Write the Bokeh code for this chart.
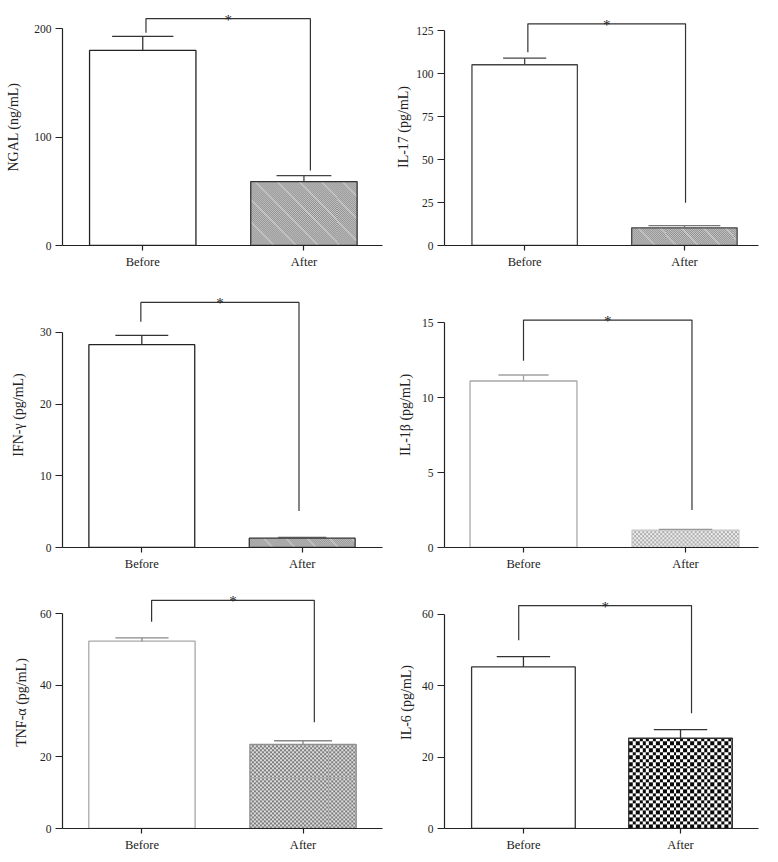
import numpy as np
from bokeh.plotting import figure
from bokeh.layouts import gridplot
from bokeh.models import Range1d, FixedTicker
from bokeh.core.properties import value
from bokeh.embed import file_html
from bokeh.resources import INLINE

# ---------------- data ----------------
categories = ["Before", "After"]

labels = ["NGAL (ng/mL)", "IL-17 (pg/mL)", "IFN-\u03b3 (pg/mL)",
          "IL-1\u03b2 (pg/mL)", "TNF-\u03b1 (pg/mL)", "IL-6 (pg/mL)"]

ngal_mean = [180.0, 59.0]
ngal_err = [13.0, 5.5]
il17_mean = [105.1, 10.3]
il17_err = [3.8, 1.3]
ifng_mean = [28.3, 1.3]
ifng_err = [1.3, 0.1]
il1b_mean = [11.1, 1.16]
il1b_err = [0.4, 0.05]
tnfa_mean = [52.3, 23.5]
tnfa_err = [0.9, 1.0]
il6_mean = [45.3, 25.3]
il6_err = [2.9, 2.4]

ngal_ticks = [0, 100, 200]
il17_ticks = [0, 25, 50, 75, 100, 125]
ifng_ticks = [0, 10, 20, 30]
il1b_ticks = [0, 5, 10, 15]
tnfa_ticks = [0, 20, 40, 60]
il6_ticks = [0, 20, 40, 60]

# significance brackets: [top, left-leg bottom, right-leg bottom]
ngal_bracket = [209.3, 196.3, 69.2]
il17_bracket = [128.9, 112.4, 24.8]
ifng_bracket = [34.2, 31.5, 5.1]
il1b_bracket = [15.16, 12.45, 2.5]
tnfa_bracket = [63.7, 57.7, 29.7]
il6_bracket = [62.5, 52.8, 32.3]
star = "*"

means = [ngal_mean, il17_mean, ifng_mean, il1b_mean, tnfa_mean, il6_mean]
errs = [ngal_err, il17_err, ifng_err, il1b_err, tnfa_err, il6_err]
ticks = [ngal_ticks, il17_ticks, ifng_ticks, il1b_ticks, tnfa_ticks, il6_ticks]
brackets = [ngal_bracket, il17_bracket, ifng_bracket, il1b_bracket, tnfa_bracket, il6_bracket]

# ---------------- layout (page pixel geometry) ----------------
# cell: x0, y0, x1, y1 ; frame: left, right, top, zero-line y ; ppu ; tick centres c0, c1
layout = [
    dict(cell=(0, 0, 389, 280), fl=58.7, fr=381.7, ft=8, y0=245.0, ppu=1.0835, c0=140.0, c1=302.7,
         legs=(0.02, 1.04), caps=(0.38, 0.34), als=10),
    dict(cell=(389, 0, 770, 280), fl=441.0, fr=760.7, ft=8, y0=245.0, ppu=1.72, c0=522.7, c1=685.5,
         legs=(0.02, 1.007), caps=(0.27, 0.45), als=2),
    dict(cell=(0, 280, 389, 574), fl=59.3, fr=383.3, ft=282, y0=546.7, ppu=7.167, c0=139.3, c1=301.7,
         legs=(-0.006, 0.98), caps=(0.33, 0.30), als=11),
    dict(cell=(389, 280, 770, 574), fl=444.0, fr=758.3, ft=282, y0=546.7, ppu=15.0, c0=523.0, c1=685.0,
         legs=(0.0, 1.04), caps=(0.31, 0.33), als=6),
    dict(cell=(0, 574, 389, 854), fl=61.7, fr=383.3, ft=576, y0=830.0, ppu=3.61, c0=141.7, c1=303.3,
         legs=(0.06, 1.07), caps=(0.33, 0.36), als=8),
    dict(cell=(389, 574, 770, 854), fl=444.0, fr=769.0, ft=576, y0=830.7, ppu=3.61, c0=525.7, c1=688.3,
         legs=(-0.03, 1.07), caps=(0.34, 0.34), als=5),
]

styles = [
    dict(before_line="#222222", after_line="#333333", tex="diag", err=("#333333", "#444444")),
    dict(before_line="#444444", after_line="#444444", tex="diag", err=("#444444", "#777777")),
    dict(before_line="#222222", after_line="#333333", tex="diag", err=("#333333", "#555555")),
    dict(before_line="#a8a8a8", after_line="#c8c8c8", tex="fine", err=("#a0a0a0", "#999999")),
    dict(before_line="#a8a8a8", after_line="#909090", tex="mid", err=("#888888", "#888888")),
    dict(before_line="#333333", after_line="#333333", tex="check", err=("#333333", "#333333")),
]

BAR_W = 0.66
FONT = "Liberation Serif"
INK = "#222222"


def texture(kind, w, h):
    w = max(int(w), 1)
    h = max(int(h), 1)
    img = np.zeros((h, w), dtype=np.uint32)
    v = img.view(dtype=np.uint8).reshape((h, w, 4))
    yy, xx = np.mgrid[0:h, 0:w]
    if kind == "diag":
        chk = ((xx + yy) % 2) == 0
        g = np.where(chk, 140, 200).astype(np.uint8)
        stripe = ((xx + yy) % 22) < 2
        g = np.where(stripe, np.where(chk, 180, 215), g).astype(np.uint8)
    elif kind == "fine":
        chk = ((xx // 2 + yy // 2) % 2) == 0
        g = np.where(chk, 175, 238).astype(np.uint8)
    elif kind == "mid":
        chk = ((xx // 2 + yy // 2) % 2) == 0
        g = np.where(chk, 125, 222).astype(np.uint8)
    else:
        chk = (((xx * 2) // 7 + (yy * 2) // 7) % 2) == 0
        g = np.where(chk, 10, 255).astype(np.uint8)
    v[:, :, 0] = g
    v[:, :, 1] = g
    v[:, :, 2] = g
    v[:, :, 3] = 255
    return img


def make_panel(i):
    L = layout[i]
    S = styles[i]
    cx0, cy0, cx1, cy1 = L["cell"]
    bl = int(round(L["fl"] - cx0))
    br = int(round(cx1 - L["fr"]))
    bt = int(round(L["ft"] - cy0))
    bb = int(round(cy1 - L["y0"]))
    fl = cx0 + bl
    fr = cx1 - br
    ft = cy0 + bt
    y0 = cy1 - bb
    xs = L["c1"] - L["c0"]
    xstart = -(L["c0"] - fl) / xs
    xend = 1 + (fr - L["c1"]) / xs
    ytop = (y0 - ft) / L["ppu"]

    p = figure(width=cx1 - cx0, height=cy1 - cy0,
               x_range=Range1d(xstart, xend), y_range=Range1d(0, ytop),
               output_backend="svg", toolbar_location=None,
               min_border_left=bl, min_border_right=br,
               min_border_top=bt, min_border_bottom=bb)
    p.outline_line_color = None
    p.grid.visible = False
    p.background_fill_color = "white"
    p.border_fill_color = "white"

    # axes
    p.xaxis.ticker = FixedTicker(ticks=list(range(len(categories))))
    p.xaxis.major_label_overrides = {k: c for k, c in enumerate(categories)}
    p.yaxis.ticker = FixedTicker(ticks=ticks[i])
    p.yaxis.bounds = (0, ticks[i][-1])
    for ax in (p.xaxis, p.yaxis):
        ax.minor_tick_line_color = None
        ax.major_tick_in = 0
        ax.axis_line_color = INK
        ax.axis_line_width = 1.2
        ax.major_tick_line_color = INK
        ax.major_tick_line_width = 1.2
        ax.major_label_text_font = FONT
        ax.major_label_text_color = INK
    p.yaxis.major_tick_out = 7
    p.xaxis.major_tick_out = 5
    p.yaxis.major_label_standoff = 4
    p.xaxis.major_label_standoff = 4
    p.yaxis.major_label_text_font_size = "11.5px"
    p.xaxis.major_label_text_font_size = "12.5px"
    p.yaxis.axis_label = labels[i]
    p.yaxis.axis_label_text_font = FONT
    p.yaxis.axis_label_text_font_size = "14px"
    p.yaxis.axis_label_text_font_style = "normal"
    p.yaxis.axis_label_text_color = INK
    p.yaxis.axis_label_standoff = L["als"]

    m = means[i]
    e = errs[i]
    xpos = list(range(len(categories)))

    # Before bar (plain white)
    p.vbar(x=[xpos[0]], top=[m[0]], width=BAR_W, bottom=0,
           fill_color="white", line_color=S["before_line"], line_width=1.3)
    # After bar (textured)
    tw = BAR_W * xs
    th = m[1] * L["ppu"]
    tex = texture(S["tex"], round(tw), round(th))
    p.image_rgba(image=[tex], x=xpos[1] - BAR_W / 2, y=0, dw=BAR_W, dh=m[1])
    p.vbar(x=[xpos[1]], top=[m[1]], width=BAR_W, bottom=0,
           fill_color=None, line_color=S["after_line"], line_width=1.3)

    # error bars
    for k in range(len(categories)):
        c = S["err"][k]
        cw = L["caps"][k]
        p.segment(x0=[xpos[k]], y0=[m[k]], x1=[xpos[k]], y1=[m[k] + e[k]],
                  line_color=c, line_width=1.3)
        p.segment(x0=[xpos[k] - cw / 2], y0=[m[k] + e[k]], x1=[xpos[k] + cw / 2],
                  y1=[m[k] + e[k]], line_color=c, line_width=1.3)

    # significance bracket
    top, lb, rb = brackets[i]
    lx, rx = L["legs"]
    p.line(x=[lx, lx, rx, rx], y=[lb, top, top, rb], line_color="#333333", line_width=1.2)
    p.text(x=[(lx + rx) / 2], y=[top], text=[star], text_align="center",
           text_baseline="alphabetic", y_offset=1,
           text_font=value(FONT), text_font_size="15px", text_color=INK)
    return p


panels = [make_panel(i) for i in range(6)]
grid = gridplot([[panels[0], panels[1]], [panels[2], panels[3]], [panels[4], panels[5]]],
                toolbar_location=None)

open("out.html", "w").write(file_html(grid, INLINE))
